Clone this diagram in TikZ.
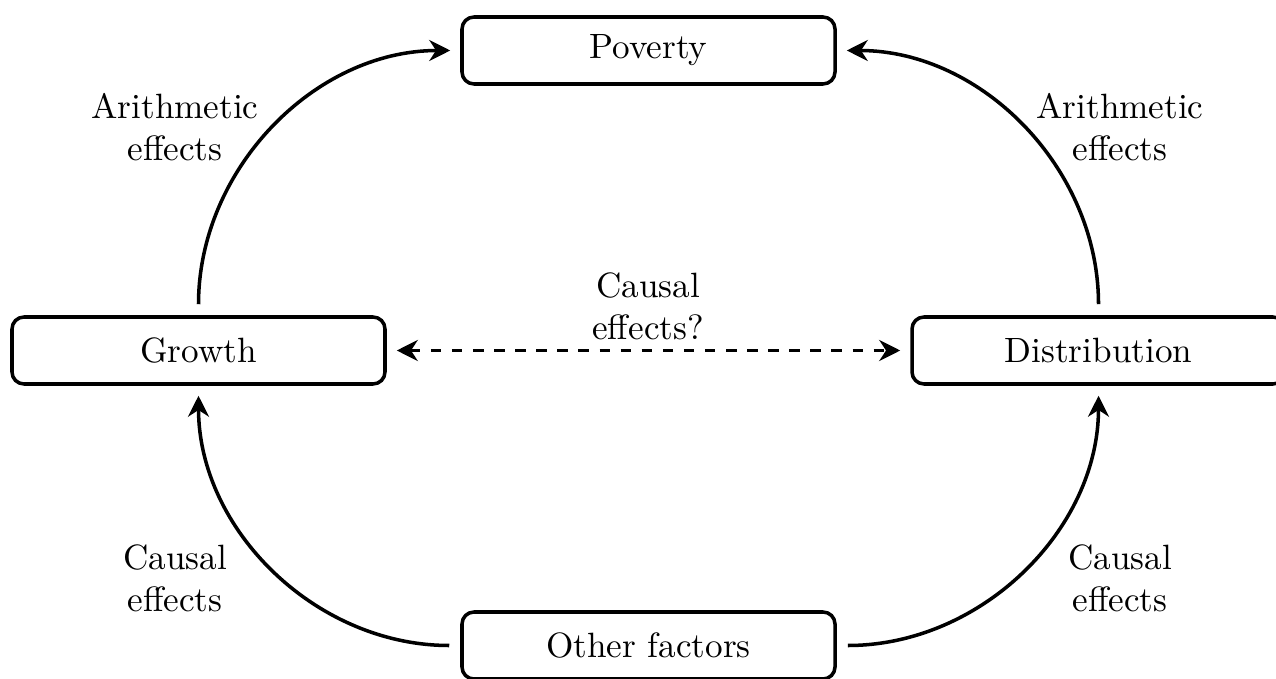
\documentclass[tikz,border=0pt]{standalone}
\usetikzlibrary{arrows.meta}
\begin{document}
\begin{tikzpicture}[
  lw/.style={line width=1pt},
  box/.style={draw, lw, rounded corners=0.12cm, minimum width=3.73cm, minimum height=0.67cm, inner sep=0pt},
  tip/.tip={Stealth[length=2.1mm,width=2.1mm]},
  conn/.style={lw, -tip, shorten <=0.11cm, shorten >=0.1cm},
  lbl/.style={align=center}
]
\useasboundingbox (0,0) rectangle (12.76,-6.79);
\node[box] (pov) at (6.485,-0.505) {Poverty};
\node[box] (gro) at (1.985,-3.505) {Growth};
\node[box] (dis) at (10.985,-3.505) {Distribution};
\node[box] (oth) at (6.485,-6.455) {Other factors};
\draw[conn] (gro.north) to[out=90,in=180] (pov.west);
\draw[conn] (dis.north) to[out=90,in=0] (pov.east);
\draw[conn] (oth.west) to[out=180,in=-90] (gro.south);
\draw[conn] (oth.east) to[out=0,in=-90] (dis.south);
\draw[lw, dashed, tip-tip, shorten <=0.1cm, shorten >=0.1cm] (gro.east) -- (dis.west);
\node[lbl] (l1) at (1.75,-1.27) {Arithmetic\\effects};
\node[lbl] (l2) at (11.2,-1.27) {Arithmetic\\effects};
\node[lbl] (l3) at (6.48,-3.06) {Causal\\effects?};
\node[lbl] (l4) at (1.75,-5.78) {Causal\\effects};
\node[lbl] (l5) at (11.2,-5.78) {Causal\\effects};
\end{tikzpicture}
\end{document}
